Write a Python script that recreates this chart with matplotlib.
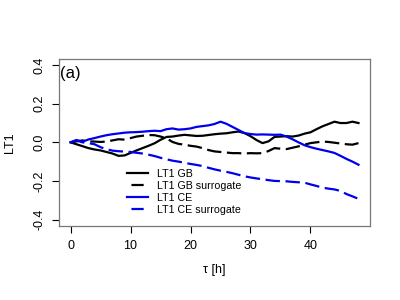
import numpy as np
import matplotlib
matplotlib.use('Agg')
import matplotlib.pyplot as plt
from matplotlib.lines import Line2D

plt.rcParams['font.family'] = ['Liberation Sans', 'DejaVu Sans']

tau = np.arange(0, 49)

gb = [0, -0.01, -0.02, -0.03, -0.037, -0.042, -0.05, -0.058, -0.07, -0.068,
      -0.055, -0.042, -0.03, -0.018, -0.005, 0.013, 0.028, 0.03, 0.035, 0.039,
      0.036, 0.033, 0.034, 0.038, 0.042, 0.045, 0.047, 0.052, 0.056, 0.048,
      0.032, 0.012, -0.004, 0.005, 0.028, 0.03, 0.032, 0.03, 0.035, 0.045,
      0.052, 0.068, 0.083, 0.095, 0.107, 0.1, 0.1, 0.107, 0.1]

gb_sur = [0, 0.005, 0.01, 0.005, 0.004, 0.002, 0.004, 0.01, 0.016, 0.014,
          0.022, 0.03, 0.034, 0.038, 0.037, 0.03, 0.021, 0.002, -0.008, -0.012,
          -0.018, -0.022, -0.03, -0.04, -0.047, -0.05, -0.053, -0.056, -0.056, -0.058,
          -0.056, -0.057, -0.056, -0.045, -0.03, -0.033, -0.035, -0.028, -0.021, -0.012,
          -0.004, 0.0, 0.004, 0.002, -0.002, -0.006, -0.01, -0.012, -0.004]

ce = [0, 0.012, 0.003, 0.015, 0.022, 0.03, 0.037, 0.042, 0.046, 0.05,
      0.052, 0.053, 0.055, 0.058, 0.06, 0.058, 0.068, 0.072, 0.066, 0.068,
      0.072, 0.08, 0.084, 0.088, 0.095, 0.107, 0.096, 0.08, 0.064, 0.048,
      0.043, 0.04, 0.041, 0.04, 0.039, 0.04, 0.03, 0.016, 0.0, -0.015,
      -0.025, -0.033, -0.04, -0.047, -0.055, -0.07, -0.086, -0.1, -0.116]

ce_sur = [0, 0.01, 0.0, -0.004, -0.01, -0.025, -0.036, -0.043, -0.046, -0.048,
          -0.05, -0.054, -0.058, -0.064, -0.071, -0.08, -0.088, -0.095, -0.1, -0.106,
          -0.112, -0.117, -0.123, -0.132, -0.14, -0.147, -0.153, -0.16, -0.168, -0.176,
          -0.182, -0.187, -0.191, -0.196, -0.2, -0.201, -0.202, -0.205, -0.207, -0.209,
          -0.218, -0.226, -0.235, -0.24, -0.244, -0.252, -0.268, -0.28, -0.293]

labels = ['LT1 GB', 'LT1 GB surrogate', 'LT1 CE', 'LT1 CE surrogate']
colors = ['black', 'black', '#0000ee', '#0000ee']

fig = plt.figure(figsize=(4, 3), dpi=100)
ax = fig.add_axes([0.1475, 0.2477, 0.7775, 0.5557])

lw = 1.6
dash = (0, (6.5, 2.5))
ax.plot(tau, gb, color=colors[0], lw=lw)
ax.plot(tau, gb_sur, color=colors[1], lw=lw, linestyle=dash)
ax.plot(tau, ce, color=colors[2], lw=lw)
ax.plot(tau, ce_sur, color=colors[3], lw=lw, linestyle=dash)

ax.set_xlim(-1.92, 49.92)
ax.set_ylim(-0.432, 0.432)
ax.set_xticks([0, 10, 20, 30, 40])
ax.set_yticks([-0.4, -0.2, 0.0, 0.2, 0.4])
ax.set_yticklabels(['-0.4', '-0.2', '0.0', '0.2', '0.4'], rotation=90, va='center')
ax.tick_params(length=5, width=0.8, labelsize=9)
ax.tick_params(axis='x', pad=5)
ax.tick_params(axis='y', pad=5)

for s in ax.spines.values():
    s.set_color('#777777')
    s.set_linewidth(0.9)

ax.set_xlabel('τ [h]', fontsize=9, labelpad=9)
ax.set_ylabel('LT1', fontsize=9, labelpad=12)

ax.text(0.003, 0.913, '(a)', transform=ax.transAxes, fontsize=12, va='center', ha='left')

# legend: dashed entries show one centred dash like the R legend
leg_dash = (6.0, (5.5, 2.5))
handles = [Line2D([], [], color=colors[0], lw=lw),
           Line2D([], [], color=colors[1], lw=lw, linestyle=leg_dash),
           Line2D([], [], color=colors[2], lw=lw),
           Line2D([], [], color=colors[3], lw=lw, linestyle=leg_dash)]
fig.legend(handles=handles, labels=labels, loc='upper left', bbox_to_anchor=(0.318, 0.437),
           frameon=False, fontsize=7.7, handlelength=1.96, handletextpad=0.8,
           labelspacing=0.19, borderpad=0, borderaxespad=0)

fig.savefig('out.png', dpi=100)
